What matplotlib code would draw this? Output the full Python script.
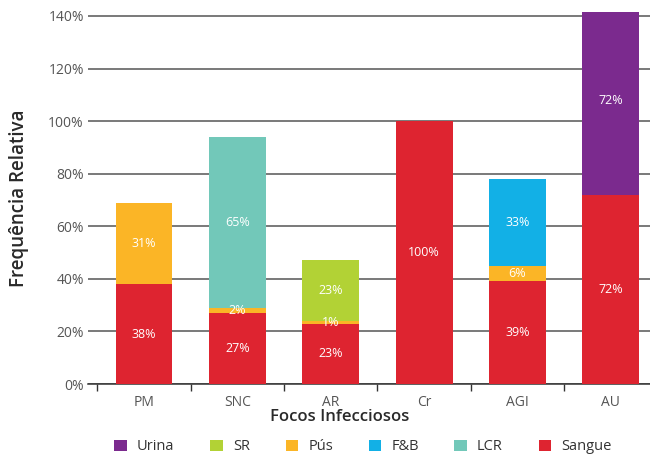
import matplotlib.pyplot as plt
from matplotlib.patches import Patch

plt.rcParams['font.family'] = ['Open Sans', 'DejaVu Sans']

focos = ['PM', 'SNC', 'AR', 'Cr', 'AGI', 'AU']

# stacked from the bottom: Sangue, Pús, SR, F&B, LCR, Urina
sangue = [38, 27, 23, 100, 39, 72]
pus = [31, 2, 1, 0, 6, 0]
sr = [0, 0, 23, 0, 0, 0]
feb = [0, 0, 0, 0, 33, 0]
lcr = [0, 65, 0, 0, 0, 0]
urina = [0, 0, 0, 0, 0, 72]

series = [
    ('Sangue', sangue, '#de2430'),
    ('Pús', pus, '#fbb526'),
    ('SR', sr, '#b2d235'),
    ('F&B', feb, '#12b0e6'),
    ('LCR', lcr, '#72c8b9'),
    ('Urina', urina, '#7b2a8e'),
]
legend_order = ['Urina', 'SR', 'Pús', 'F&B', 'LCR', 'Sangue']

fig = plt.figure(figsize=(6.5, 4.55), dpi=100)
ax = fig.add_axes([88 / 650, 71 / 455, 562 / 650, 372 / 455])

x = list(range(len(focos)))
bottom = [0] * len(focos)
for name, vals, color in series:
    ax.bar(x, vals, bottom=bottom, width=0.61, color=color, zorder=3)
    for i, v in enumerate(vals):
        if v > 0:
            ax.text(i, bottom[i] + v / 2, f'{v}%', ha='center', va='center',
                    color='white', fontsize=9, zorder=4)
    bottom = [b + v for b, v in zip(bottom, vals)]

ax.set_xlim(-0.6, 5.42)
ax.set_ylim(0, 141.5)

ax.set_yticks(range(0, 141, 20))
ax.set_yticklabels([f'{v}%' for v in range(0, 141, 20)])
ax.yaxis.grid(True, color='#555555', linewidth=1.1, zorder=0)
ax.tick_params(axis='y', length=0, pad=3, labelsize=10, labelcolor='#555555')

ax.set_xticks(x)
ax.set_xticklabels(focos)
ax.set_xticks([i - 0.5 for i in range(len(focos))], minor=True)
ax.tick_params(axis='x', which='major', length=0, pad=8, labelsize=10,
               labelcolor='#555555')
ax.tick_params(axis='x', which='minor', length=5, width=1, color='#333333')

for s in ['top', 'right', 'left']:
    ax.spines[s].set_visible(False)
ax.spines['bottom'].set_color('#333333')
ax.spines['bottom'].set_linewidth(1.1)

fig.text(340 / 650, 1 - 417 / 455, 'Focos Infecciosos', ha='center', va='center',
         fontsize=12, fontweight='semibold', color='#2a2a2a')
fig.text(19 / 650, 1 - 198 / 455, 'Frequência Relativa', ha='center', va='center',
         rotation=90, fontsize=13.5, fontweight='semibold', color='#2a2a2a')

colors = {name: color for name, _, color in series}
handles = [Patch(facecolor=colors[n], label=n) for n in legend_order]
fig.legend(handles=handles, loc='center', ncol=6, frameon=False,
           bbox_to_anchor=(363 / 650, 1 - 447 / 455), fontsize=10.5,
           handlelength=0.85, handleheight=0.85, handletextpad=0.7,
           columnspacing=2.45, labelcolor='#333333')

fig.savefig('out.png', dpi=100)
